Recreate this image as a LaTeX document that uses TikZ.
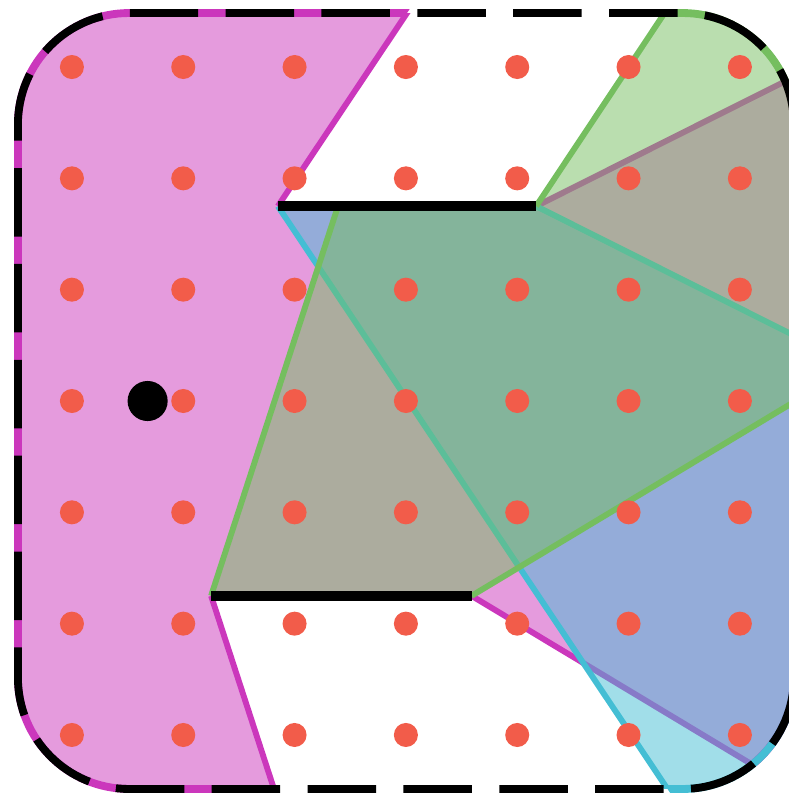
\documentclass[tikz,border=0pt]{standalone}
\usetikzlibrary{calc}
\definecolor{lampPink}{RGB}{203,55,188}
\definecolor{mirBlue}{RGB}{68,190,212}
\definecolor{mirGreen}{RGB}{117,190,95}
\definecolor{dotRed}{RGB}{242,92,74}

\newcommand\rimpath{(6.485,3) -- (6.485,0.515) arc (0:-90:1) -- (0.515,-0.485) arc (270:180:1)
    -- (-0.485,5.485) arc (180:90:1) -- (5.485,6.485) arc (90:0:1) -- cycle}
\newcommand\pinkpath{(a) -- ($(lamp)!5!(a)$) -- (-9,12) -- (-9,-9) -- ($(lamp)!5!(c)$)
    -- (c) -- (d) -- ($(lamp)!5!(d)$) -- ($(lamp)!5!(b)$) -- (b) -- cycle}
\newcommand\bluepath{(a) -- (b) -- ($(up)!5!(b)$) -- ($(up)!5!(a)$) -- cycle}
\newcommand\greenpath{(c) -- (d) -- ($(dn)!5!(d)$) -- ($(dn)!4!(b)$) -- (b) -- (e) -- cycle}

\begin{document}
\begin{tikzpicture}[
  ray/.style={line width=1.5pt},
  zone/.style={fill opacity=0.5},
  wall/.style={line width=2.5pt},
  rim/.style={line width=2pt}]
\useasboundingbox (-0.646,-0.566) rectangle (6.439,6.602);
\clip (-0.646,-0.566) rectangle (6.439,6.602);

% lamp, mirror ends, lamp seen in each mirror
\coordinate (lamp) at (0.68,3);
\coordinate (a) at (1.85,4.75);
\coordinate (b) at (4.17,4.75);
\coordinate (c) at (1.25,1.25);
\coordinate (d) at (3.59,1.25);
\coordinate (up) at (0.68,6.5);
\coordinate (dn) at (0.68,-0.5);
\coordinate (e) at ($(dn)!3!(c)$);

\begin{scope}
  \clip \rimpath;
  \fill[lampPink,zone] \pinkpath;
  \draw[lampPink,ray] (a) -- ($(lamp)!5!(a)$) (b) -- ($(lamp)!5!(b)$)
    (c) -- ($(lamp)!5!(c)$) (d) -- ($(lamp)!5!(d)$);
  \fill[mirBlue,zone] \bluepath;
  \draw[mirBlue,ray] (a) -- ($(up)!5!(a)$) (b) -- ($(up)!5!(b)$);
  \fill[mirGreen,zone] \greenpath;
  \draw[mirGreen,ray] (c) -- (e) (d) -- ($(dn)!5!(d)$) (b) -- ($(dn)!4!(b)$);
\end{scope}

% rim takes the colour of the light behind it
\begin{scope}
  \clip \pinkpath;
  \draw[lampPink,rim] \rimpath;
\end{scope}
\begin{scope}
  \clip \bluepath;
  \draw[mirBlue,rim] \rimpath;
\end{scope}
\begin{scope}
  \clip \greenpath;
  \draw[mirGreen,rim] \rimpath;
\end{scope}
\draw[rim,dash pattern=on 17.5pt off 7pt,dash phase=2.26pt] \rimpath;

\draw[wall] (a) -- (b) (c) -- (d);
\foreach \i in {0,...,6}
  \foreach \j in {0,...,6}
    \fill[dotRed] (\i,\j) circle (0.108);
\fill (lamp) circle (0.18);
\end{tikzpicture}
\end{document}
